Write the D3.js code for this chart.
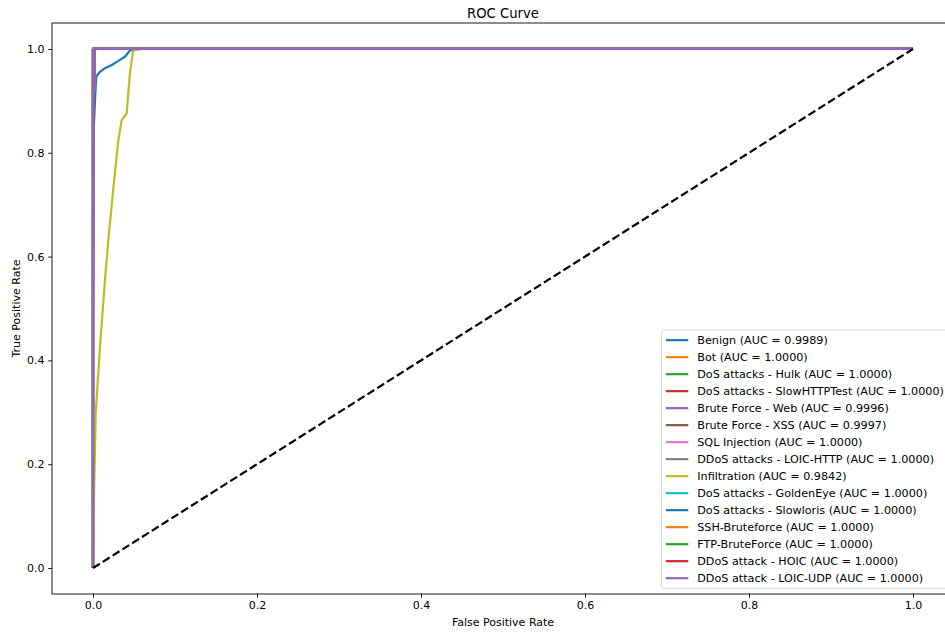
<!DOCTYPE html>
<html lang="en">
<head>
<meta charset="UTF-8">
<title>ROC Curve</title>
<script src="https://d3js.org/d3.v7.min.js"></script>
<style>
body { margin: 0; background: #fff; }
svg { display: block; font-family: "DejaVu Sans", sans-serif; }
.tick text { font-size: 11px; fill: #000; }
</style>
</head>
<body>
<div id="chart"></div>
<script>
// class names and AUC scores, in plotting order
const classes = ["Benign", "Bot", "DoS attacks - Hulk", "DoS attacks - SlowHTTPTest",
  "Brute Force - Web", "Brute Force - XSS", "SQL Injection", "DDoS attacks - LOIC-HTTP",
  "Infiltration", "DoS attacks - GoldenEye", "DoS attacks - Slowloris", "SSH-Bruteforce",
  "FTP-BruteForce", "DDoS attack - HOIC", "DDoS attack - LOIC-UDP"];
const aucs = [0.9989, 1.0, 1.0, 1.0, 0.9996, 0.9997, 1.0, 1.0, 0.9842, 1.0, 1.0, 1.0, 1.0, 1.0, 1.0];

// roc points (perfect classifiers share one curve)
const perfectFpr = [0, 0, 1];
const perfectTpr = [0, 1, 1];
const benignFpr = [0, 0, 0.001, 0.003, 0.004, 0.0085, 0.0146, 0.0228, 0.031, 0.039, 0.045, 0.06, 1];
const benignTpr = [0, 0.5, 0.85, 0.92, 0.947, 0.956, 0.963, 0.969, 0.977, 0.985, 0.997, 1, 1];
const webFpr = [0, 0, 0.0024, 0.0024, 1];
const webTpr = [0, 0.92, 0.92, 1, 1];
const xssFpr = [0, 0, 0.0007, 0.0007, 1];
const xssTpr = [0, 0.95, 0.95, 1, 1];
const infilFpr = [0, 0.0006, 0.0012, 0.0033, 0.0085, 0.0146, 0.0187, 0.025, 0.031, 0.035, 0.041, 0.045, 0.049, 0.06, 1];
const infilTpr = [0, 0.07, 0.137, 0.298, 0.426, 0.555, 0.632, 0.735, 0.825, 0.863, 0.876, 0.953, 0.997, 1, 1];

const xTicks = [0, 0.2, 0.4, 0.6, 0.8, 1.0];
const yTicks = [0, 0.2, 0.4, 0.6, 0.8, 1.0];

const colors = ["#1f77b4", "#ff7f0e", "#2ca02c", "#d62728", "#9467bd", "#8c564b",
  "#e377c2", "#7f7f7f", "#bcbd22", "#17becf"];

function curveFor(name) {
  if (name === "Benign") return [benignFpr, benignTpr];
  if (name === "Brute Force - Web") return [webFpr, webTpr];
  if (name === "Brute Force - XSS") return [xssFpr, xssTpr];
  if (name === "Infiltration") return [infilFpr, infilTpr];
  return [perfectFpr, perfectTpr];
}

const width = 945, height = 633;
const plotLeft = 52, plotRight = 954, plotTop = 23, plotBottom = 594;

const svg = d3.select("#chart").append("svg")
  .attr("width", width).attr("height", height);

const x = d3.scaleLinear().domain([-0.05, 1.05]).range([plotLeft, plotRight]);
const y = d3.scaleLinear().domain([-0.05, 1.05]).range([plotBottom, plotTop]);

const line = d3.line().x(d => x(d[0])).y(d => y(d[1]));

// curves
classes.forEach((c, i) => {
  const [f, t] = curveFor(c);
  svg.append("path")
    .datum(f.map((v, k) => [v, t[k]]))
    .attr("d", line)
    .attr("fill", "none")
    .attr("stroke", colors[i % colors.length])
    .attr("stroke-width", 2.2)
    .attr("stroke-linejoin", "round");
});

// chance diagonal
svg.append("path")
  .datum([[0, 0], [1, 1]])
  .attr("d", line)
  .attr("fill", "none")
  .attr("stroke", "#000")
  .attr("stroke-width", 2.2)
  .attr("stroke-dasharray", "8.1,3.5");

// axes
const xAxis = svg.append("g")
  .attr("transform", `translate(0,${plotBottom})`)
  .call(d3.axisBottom(x).tickValues(xTicks).tickFormat(d3.format(".1f"))
    .tickSize(3.8).tickPadding(3.8).tickSizeOuter(0));
const yAxis = svg.append("g")
  .attr("transform", `translate(${plotLeft},0)`)
  .call(d3.axisLeft(y).tickValues(yTicks).tickFormat(d3.format(".1f"))
    .tickSize(3.8).tickPadding(3.8).tickSizeOuter(0));
[xAxis, yAxis].forEach(g => {
  g.select(".domain").remove();
  g.selectAll(".tick line").attr("stroke", "#000").attr("stroke-width", 0.9);
  g.attr("font-family", null).attr("font-size", null);
});

// frame
svg.append("rect")
  .attr("x", plotLeft).attr("y", plotTop)
  .attr("width", plotRight - plotLeft).attr("height", plotBottom - plotTop)
  .attr("fill", "none").attr("stroke", "#000").attr("stroke-width", 0.9);

// labels
svg.append("text")
  .attr("x", (plotLeft + plotRight) / 2).attr("y", 17.5)
  .attr("text-anchor", "middle").style("font-size", "13.2px")
  .text("ROC Curve");
svg.append("text")
  .attr("x", (plotLeft + plotRight) / 2).attr("y", 626)
  .attr("text-anchor", "middle").style("font-size", "11px")
  .text("False Positive Rate");
svg.append("text")
  .attr("transform", `translate(20,${(plotTop + plotBottom) / 2}) rotate(-90)`)
  .attr("text-anchor", "middle").style("font-size", "11px")
  .text("True Positive Rate");

// legend, lower right
const fs = 11.2;
const legRight = plotRight - 0.5 * fs;
const legBottom = plotBottom - 0.5 * fs;
const rowPitch = 17;
const legH = 0.4 * fs * 2 + 11.5 * classes.length + rowPitch * 0 + (rowPitch - 11.5) * (classes.length - 1);
const legTop = legBottom - legH;

const legend = svg.append("g");
const box = legend.append("rect");
const items = legend.selectAll("g.item")
  .data(classes)
  .enter().append("g")
  .attr("class", "item")
  .attr("transform", (d, i) => `translate(0,${legTop + 0.4 * fs + 5.75 + i * rowPitch})`);

const texts = items.append("text")
  .attr("dy", "0.35em")
  .style("font-size", fs + "px")
  .text((d, i) => `${d} (AUC = ${aucs[i].toFixed(4)})`);
const maxW = d3.max(texts.nodes(), n => n.getComputedTextLength());
const legW = 0.4 * fs + 2 * fs + 0.8 * fs + maxW + 0.4 * fs;
const legLeft = legRight - legW;

texts.attr("x", legLeft + 0.4 * fs + 2 * fs + 0.8 * fs);
items.append("line")
  .attr("x1", legLeft + 0.4 * fs).attr("x2", legLeft + 0.4 * fs + 2 * fs)
  .attr("stroke", (d, i) => colors[i % colors.length])
  .attr("stroke-width", 2.2);

box.attr("x", legLeft).attr("y", legTop)
  .attr("width", legW).attr("height", legH)
  .attr("rx", 2.2)
  .attr("fill", "#fff").attr("fill-opacity", 0.8)
  .attr("stroke", "#ccc").attr("stroke-opacity", 0.8).attr("stroke-width", 0.9);
</script>
</body>
</html>
